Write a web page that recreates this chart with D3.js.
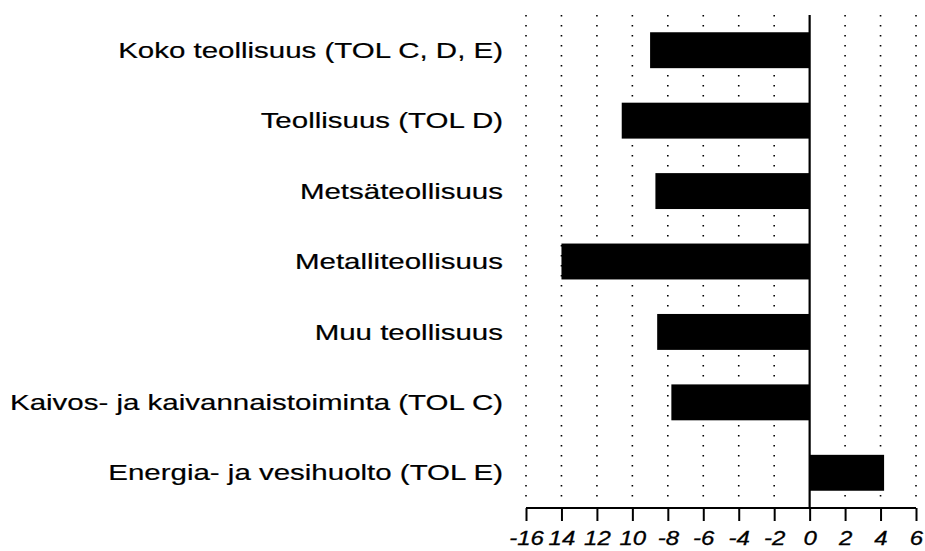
<!DOCTYPE html>
<html>
<head>
<meta charset="utf-8">
<script src="https://cdn.jsdelivr.net/npm/d3@7"></script>
<style>
  body { margin: 0; background: #fff; }
  svg { display: block; }
</style>
</head>
<body>
<svg id="chart" width="925" height="551"></svg>
<script>
const categories = [
  "Koko teollisuus (TOL C, D, E)",
  "Teollisuus (TOL D)",
  "Metsäteollisuus",
  "Metalliteollisuus",
  "Muu teollisuus",
  "Kaivos- ja kaivannaistoiminta (TOL C)",
  "Energia- ja vesihuolto (TOL E)"
];
const values = [-9.0, -10.6, -8.7, -14.0, -8.6, -7.8, 4.2];
const tickValues = [-16, -14, -12, -10, -8, -6, -4, -2, 0, 2, 4, 6];
const tickLabels = ["-16", "14", "12", "10", "-8", "-6", "-4", "-2", "0", "2", "4", "6"];

const svg = d3.select("#chart");
const plotLeft = 526, plotRight = 916, plotTop = 15, plotBottom = 508;

const x = d3.scaleLinear().domain([-16, 6]).range([plotLeft, plotRight]);
const y = d3.scaleBand().domain(categories).range([plotTop, plotBottom]).paddingInner(0.49).paddingOuter(0.245);

// dotted gridlines
svg.append("g").selectAll("line")
  .data(tickValues.filter(d => d !== 0))
  .join("line")
  .attr("x1", d => x(d)).attr("x2", d => x(d))
  .attr("y1", plotTop).attr("y2", plotBottom - 4)
  .attr("stroke", "#000")
  .attr("stroke-width", 1.6)
  .attr("stroke-dasharray", "1.6,8.4");

// bars
svg.append("g").selectAll("rect")
  .data(values)
  .join("rect")
  .attr("x", d => x(Math.min(0, d)))
  .attr("width", d => Math.abs(x(d) - x(0)))
  .attr("y", (d, i) => y(categories[i]))
  .attr("height", y.bandwidth())
  .attr("fill", "#000");

// zero line
svg.append("line")
  .attr("x1", x(0)).attr("x2", x(0))
  .attr("y1", plotTop).attr("y2", plotBottom)
  .attr("stroke", "#000").attr("stroke-width", 2.2);

// x axis
const xAxis = d3.axisBottom(x)
  .tickValues(tickValues)
  .tickSize(13)
  .tickPadding(9.5)
  .tickFormat((d, i) => tickLabels[i]);
const gx = svg.append("g").attr("transform", `translate(0,${plotBottom})`).call(xAxis);
gx.select(".domain").attr("stroke-width", 2).attr("d", `M${plotLeft},0H${plotRight}`);
gx.selectAll(".tick line").attr("stroke-width", 2);
gx.selectAll(".tick text")
  .attr("font-family", "Liberation Sans, Arial, sans-serif")
  .attr("font-style", "italic")
  .attr("font-size", 20)
  .attr("fill", "#000")
  .attr("stroke", "#000")
  .attr("stroke-width", 0.3)
  .attr("transform", "scale(1.2,1)");

// category labels
svg.append("g").selectAll("text")
  .data(categories)
  .join("text")
  .attr("transform", d => `translate(503,${y(d) + y.bandwidth() / 2}) scale(1.34,1)`)
  .attr("dy", "0.35em")
  .attr("text-anchor", "end")
  .attr("font-family", "Liberation Sans, Arial, sans-serif")
  .attr("font-size", 22)
  .attr("fill", "#000")
  .attr("stroke", "#000")
  .attr("stroke-width", 0.2)
  .text(d => d);
</script>
</body>
</html>
